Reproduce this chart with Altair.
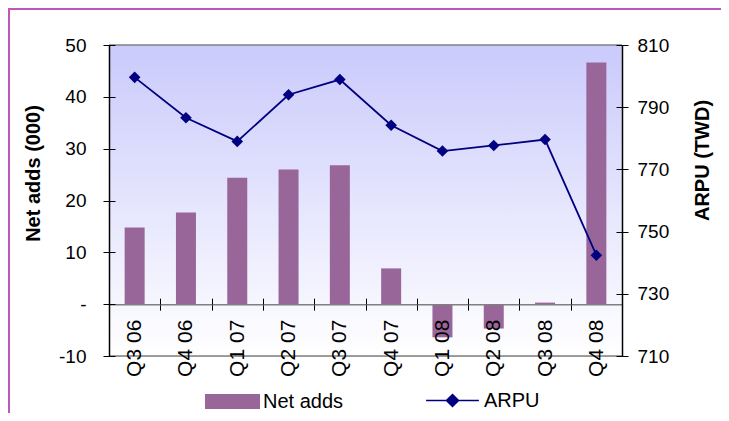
import altair as alt
import pandas as pd

# ---- data ----
quarters = ["Q3 06", "Q4 06", "Q1 07", "Q2 07", "Q3 07", "Q4 07", "Q1 08", "Q2 08", "Q3 08", "Q4 08"]
net_adds = [14.8, 17.7, 24.4, 26.0, 26.8, 6.9, -6.4, -4.7, 0.3, 46.6]
arpu = [799.6, 786.6, 779.0, 794.0, 798.9, 784.2, 775.9, 777.7, 779.6, 742.4]
left_ticks = [-10, 0, 10, 20, 30, 40, 50]
right_ticks = [710, 730, 750, 770, 790, 810]
series = ["Net adds", "ARPU"]
series_colors = ["#996699", "#000080"]

df = pd.DataFrame({"quarter": quarters, "net_adds": net_adds, "arpu": arpu})
one = pd.DataFrame({"k": [0]})

W, H = 513, 311
FONT = "Liberation Sans"
ZERO_FROM_BOTTOM = H * 10 / 60.0

xscale = alt.Scale(domain=quarters, paddingInner=0, paddingOuter=0)
yl = alt.Scale(domain=[-10, 50], nice=False, zero=False)
yr = alt.Scale(domain=[710, 810], nice=False, zero=False)
fill_scale = alt.Scale(domain=[series[0]], range=[series_colors[0]])
stroke_scale = alt.Scale(domain=[series[1]], range=[series_colors[1]])

BAR_SWATCH = "M-1,-0.273H1V0.273H-1Z"
LINE_SWATCH = ("M-0.96,0H0.96"
               "M0,-0.22L0.22,0L0,0.22L-0.22,0Z"
               "M0,-0.165L0.165,0L0,0.165L-0.165,0Z"
               "M0,-0.11L0.11,0L0,0.11L-0.11,0Z"
               "M0,-0.055L0.055,0L0,0.055L-0.055,0Z")

common_legend = dict(orient="none", direction="horizontal", title=None, padding=0,
                     labelFont=FONT, labelFontSize=20, labelColor="black",
                     labelOffset=3, symbolSize=3025)
bar_legend = alt.Legend(legendX=96, legendY=329, symbolType=BAR_SWATCH,
                        symbolStrokeWidth=0, **common_legend)
line_legend = alt.Legend(legendX=315, legendY=327, symbolType=LINE_SWATCH,
                         symbolStrokeWidth=1.5, **common_legend)

grad = alt.Gradient(
    gradient="linear", x1=0, x2=0, y1=0, y2=1,
    stops=[alt.GradientStop(color="#CACAFC", offset=0),
           alt.GradientStop(color="#FFFFFF", offset=1)],
)

border = alt.Chart(one).mark_rect(fill="transparent", stroke="#C055C0", strokeWidth=3).encode(
    x=alt.value(-100.5), x2=alt.value(720), y=alt.value(-36.5), y2=alt.value(400)
)
bg = alt.Chart(one).mark_rect(fill=grad).encode(
    x=alt.value(0), x2=alt.value(W), y=alt.value(0), y2=alt.value(H)
)

bars = alt.Chart(df).transform_calculate(series="'Net adds'").mark_bar(size=20).encode(
    x=alt.X("quarter:N", sort=quarters, scale=xscale, title=None,
            axis=alt.Axis(orient="bottom", offset=-ZERO_FROM_BOTTOM, labelAngle=270,
                          labelAlign="right", labelBaseline="middle", labelFont=FONT,
                          labelFontSize=21, labelColor="black", labelPadding=9,
                          labelOverlap=False, tickBand="extent", tickSize=6,
                          tickColor="black", tickWidth=1, domainColor="#808080",
                          domainWidth=1.5, grid=False, zindex=1)),
    y=alt.Y("net_adds:Q", scale=yl,
            axis=alt.Axis(orient="left", values=left_ticks,
                          labelExpr="datum.value == 0 ? '-' : '' + datum.value",
                          labelFont=FONT, labelFontSize=19, labelColor="black",
                          labelPadding=17, tickSize=6, tickColor="black",
                          domainColor="black", domainWidth=1.5, grid=False,
                          title="Net adds (000)", titleFont=FONT, titleFontSize=20,
                          titleFontWeight="bold", titleColor="black", titleAngle=270,
                          titleAlign="center", titleBaseline="middle",
                          titleX=-76, titleY=128, zindex=1)),
    fill=alt.Fill("series:N", scale=fill_scale, legend=bar_legend),
)

inner_left = alt.Chart(df).mark_point(opacity=0).encode(
    x=alt.X("quarter:N", sort=quarters, scale=xscale, title=None,
            axis=alt.Axis(orient="top", offset=-(H - ZERO_FROM_BOTTOM), labels=False,
                          domain=False, tickBand="extent", tickSize=6,
                          tickColor="black", grid=False, zindex=1)),
    y=alt.Y("net_adds:Q", scale=yl, title=None,
            axis=alt.Axis(orient="right", offset=-W, values=left_ticks, labels=False,
                          domain=False, tickSize=6, tickColor="black", grid=False,
                          zindex=1)),
)

top_rule = alt.Chart(one).mark_rule(color="#808080", strokeWidth=1.5).encode(
    y=alt.datum(50, scale=yl, axis=None))
bot_rule = alt.Chart(one).mark_rule(color="#808080", strokeWidth=1.5).encode(
    y=alt.datum(-10, scale=yl, axis=None))

left = alt.layer(border, bg, top_rule, bot_rule, bars, inner_left)

line = alt.Chart(df).transform_calculate(series="'ARPU'").mark_line(strokeWidth=1.8).encode(
    x=alt.X("quarter:N", sort=quarters, scale=xscale, axis=None),
    y=alt.Y("arpu:Q", scale=yr,
            axis=alt.Axis(orient="right", values=right_ticks, labelFont=FONT,
                          labelFontSize=19, labelColor="black", labelPadding=9,
                          tickSize=6, tickColor="black", domainColor="black",
                          domainWidth=1.5, grid=False, title="ARPU (TWD)",
                          titleFont=FONT, titleFontSize=20, titleFontWeight="bold",
                          titleColor="black", titleAngle=270, titleAlign="center",
                          titleBaseline="middle", titleX=80, titleY=115, zindex=1)),
    stroke=alt.Stroke("series:N", scale=stroke_scale, legend=line_legend),
)
pts = alt.Chart(df).mark_point(shape="diamond", filled=True, size=135, opacity=1,
                               color="#000080").encode(
    x=alt.X("quarter:N", sort=quarters, scale=xscale, axis=None),
    y=alt.Y("arpu:Q", scale=yr, axis=None),
)
inner_right = alt.Chart(df).mark_point(opacity=0).encode(
    x=alt.X("quarter:N", sort=quarters, scale=xscale, axis=None),
    y=alt.Y("arpu:Q", scale=yr, title=None,
            axis=alt.Axis(orient="left", offset=-W, values=right_ticks, labels=False,
                          domain=False, tickSize=6, tickColor="black", grid=False,
                          zindex=1)),
)
right = alt.layer(line, pts, inner_right)

chart = alt.layer(left, right).resolve_scale(y="independent").properties(
    width=W, height=H,
    padding={"left": 101, "top": 37, "right": 99, "bottom": 57},
    autosize=alt.AutoSizeParams(type="none"),
    background="white",
).configure_view(stroke=None).configure(font=FONT)

chart.save("out.html", embed_options={"renderer": "svg", "actions": False})
